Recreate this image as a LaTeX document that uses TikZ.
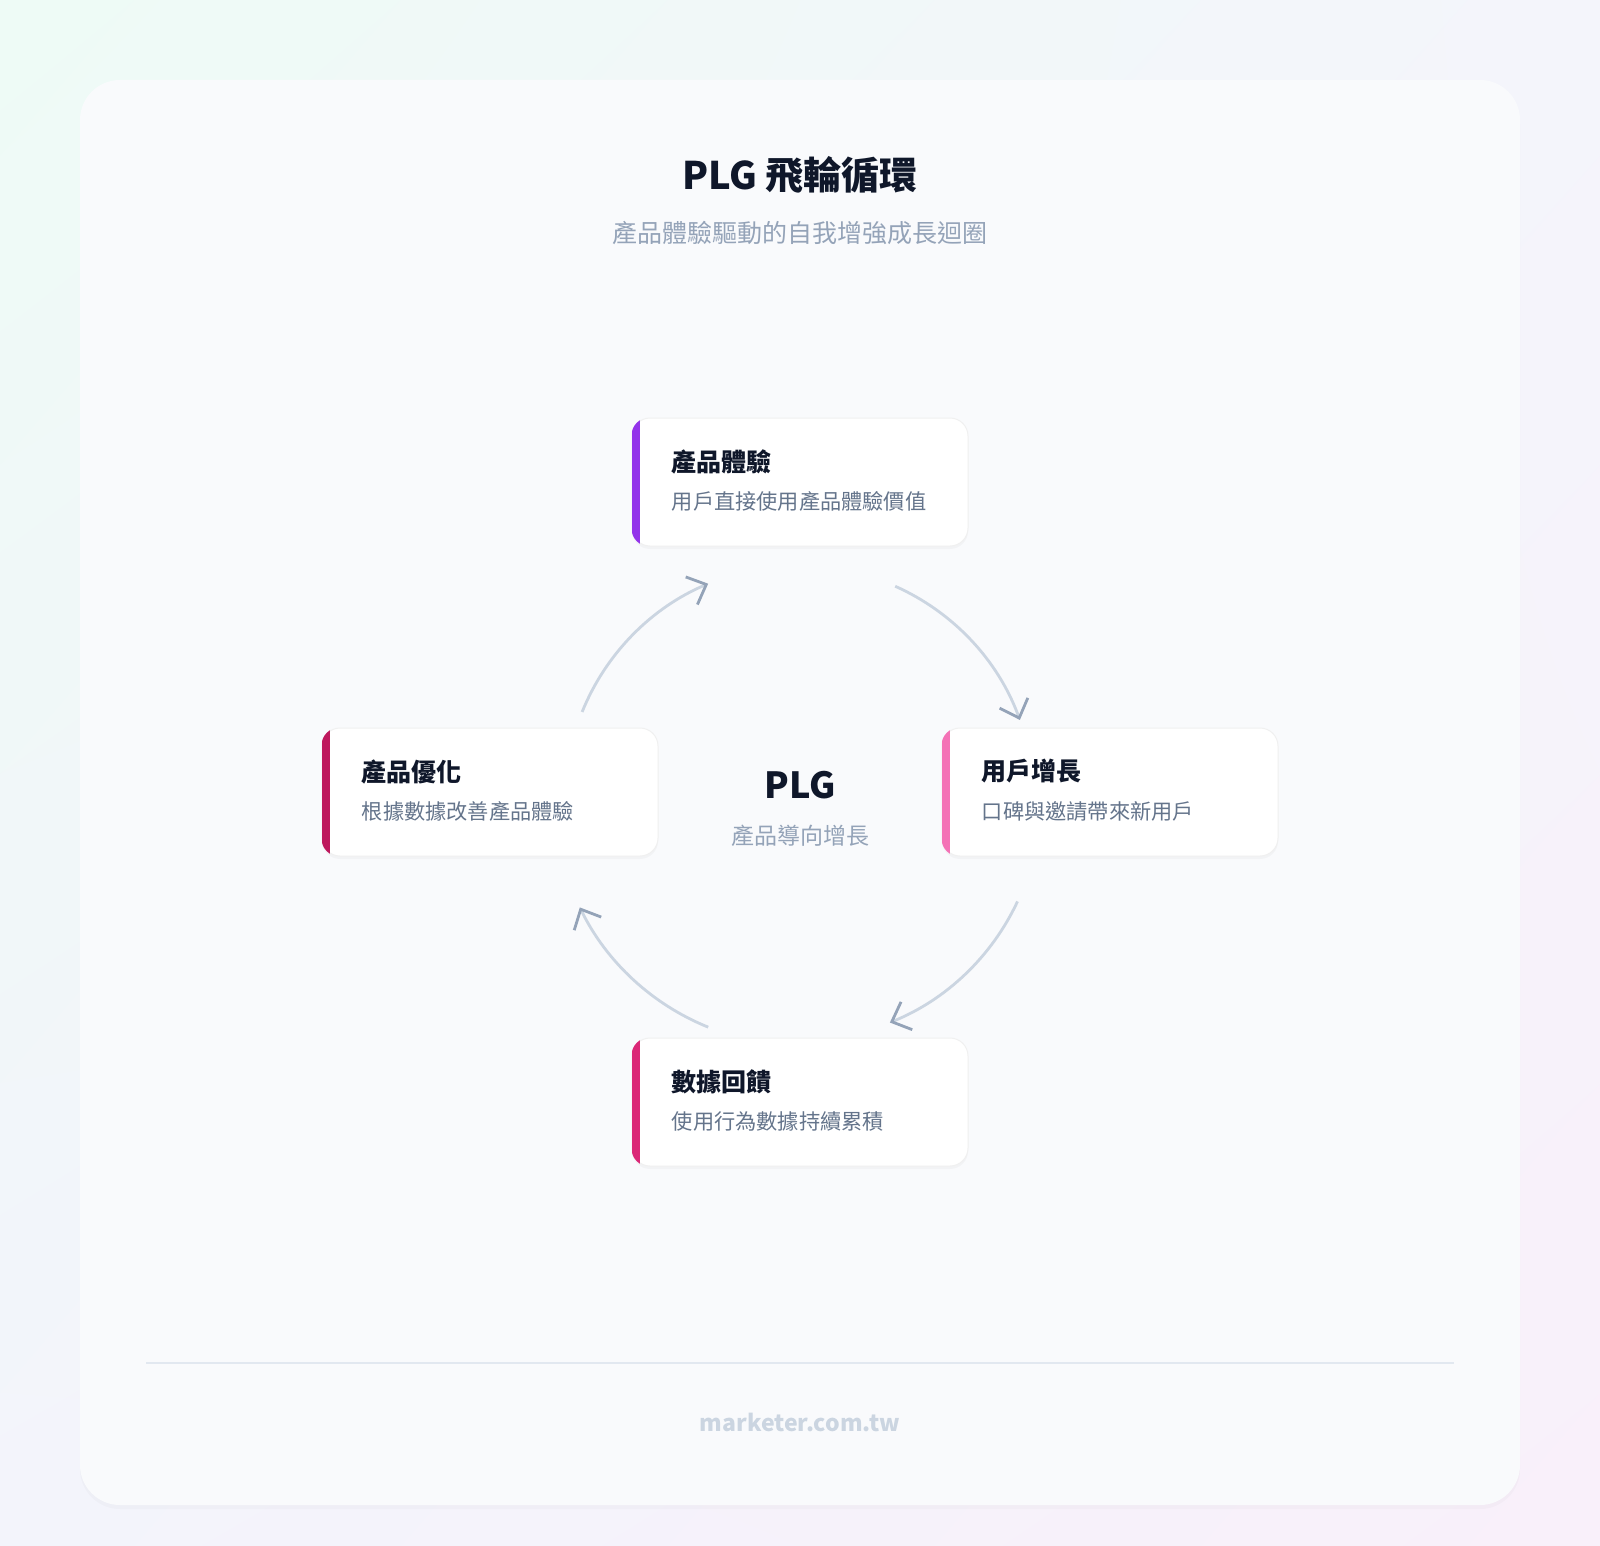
\documentclass[tikz,border=0pt]{standalone}
\usepackage{fontspec}
\setmainfont{Noto Sans CJK TC}
\usetikzlibrary{shadows,arrows.meta,shadings}
\definecolor{ink}{HTML}{0F172A}
\definecolor{subg}{HTML}{94A3B8}
\definecolor{cardsub}{HTML}{64748B}
\definecolor{arr}{HTML}{CBD5E1}
\definecolor{arrhead}{HTML}{94A3B8}
\definecolor{cPurple}{HTML}{9333EA}
\definecolor{cRose}{HTML}{BE185D}
\definecolor{cPink}{HTML}{F472B6}
\definecolor{cMag}{HTML}{DB2777}
\definecolor{bgUL}{HTML}{EEFBF6}
\definecolor{bgUR}{HTML}{F4F5FB}
\definecolor{bgLL}{HTML}{F3F4FB}
\definecolor{bgLR}{HTML}{F9F0FA}
\definecolor{panelc}{HTML}{F9FAFC}
\definecolor{rulec}{HTML}{E2E8F0}
\tikzset{
 cardbox/.style={draw=black!6,line width=0.5pt,fill=white,rounded corners=9pt,minimum width=168pt,minimum height=64pt,inner sep=0pt,drop shadow={opacity=0.05,shadow xshift=0pt,shadow yshift=-1.5pt}},
 ctitle/.style={anchor=west,text=ink,font=\bfseries\fontsize{12.5}{14}\selectfont,inner sep=0pt},
 csub/.style={anchor=west,text=cardsub,font=\fontsize{10.6}{12}\selectfont,inner sep=0pt},
 flow/.style={draw=arr,line width=1.4pt,-{Straight Barb[length=8pt,width=15pt,line width=1.4pt,color=arrhead]}}
}
\newcommand{\plgcard}[6]{%
 \node[cardbox] (#1) at (#2,#3) {};
 \begin{scope}
 \clip[rounded corners=9pt] (#1.south west) rectangle (#1.north east);
 \fill[#4] (#1.south west) rectangle ([xshift=4pt]#1.north west);
 \end{scope}
 \node[ctitle] (#1t) at ([xshift=20pt,yshift=-22pt]#1.north west) {#5};
 \node[csub] (#1s) at ([xshift=20pt,yshift=-42pt]#1.north west) {#6};
}
\begin{document}
\begin{tikzpicture}[x=0.5pt,y=-0.5pt]
\useasboundingbox (0,0) rectangle (1600,1546);
\shade[upper left=bgUL,upper right=bgUR,lower left=bgLL,lower right=bgLR] (0,0) rectangle (1600,1546);
\node[draw=none,fill=panelc,rounded corners=20pt,minimum width=720pt,minimum height=712.5pt,inner sep=0pt,drop shadow={opacity=0.04,shadow xshift=0pt,shadow yshift=-2pt}] (panel) at (800,792.5) {};
\node[text=ink,font=\bfseries\fontsize{19}{22}\selectfont] (title) at (800,175) {PLG 飛輪循環};
\node[text=subg,font=\fontsize{12.5}{14}\selectfont] (subtitle) at (800,233) {產品體驗驅動的自我增強成長迴圈};
\plgcard{top}{800}{482}{cPurple}{產品體驗}{用戶直接使用產品體驗價值}
\plgcard{left}{490}{792}{cRose}{產品優化}{根據數據改善產品體驗}
\plgcard{right}{1110}{792}{cPink}{用戶增長}{口碑與邀請帶來新用戶}
\plgcard{bot}{800}{1102}{cMag}{數據回饋}{使用行為數據持續累積}
\node[text=ink,font=\bfseries\fontsize{18}{20}\selectfont] (center) at (800,785) {PLG};
\node[text=subg,font=\fontsize{11.5}{13}\selectfont] (centersub) at (800,836) {產品導向增長};
\coordinate (o) at (800,800);
\draw[flow] (o) ++(-66:234) arc[start angle=-66,end angle=-20,radius=234];
\draw[flow] (o) ++(25:240) arc[start angle=25,end angle=68,radius=240];
\draw[flow] (o) ++(112:245) arc[start angle=112,end angle=154,radius=245];
\draw[flow] (o) ++(202:235) arc[start angle=202,end angle=247,radius=235];
\coordinate (fl) at (146,1363);
\coordinate (fr) at (1454,1363);
\draw[draw=rulec,line width=0.6pt] (fl) -- (fr);
\node[text=arr,font=\bfseries\fontsize{11.5}{13}\selectfont] (footer) at (800,1422) {marketer.com.tw};
\end{tikzpicture}
\end{document}
